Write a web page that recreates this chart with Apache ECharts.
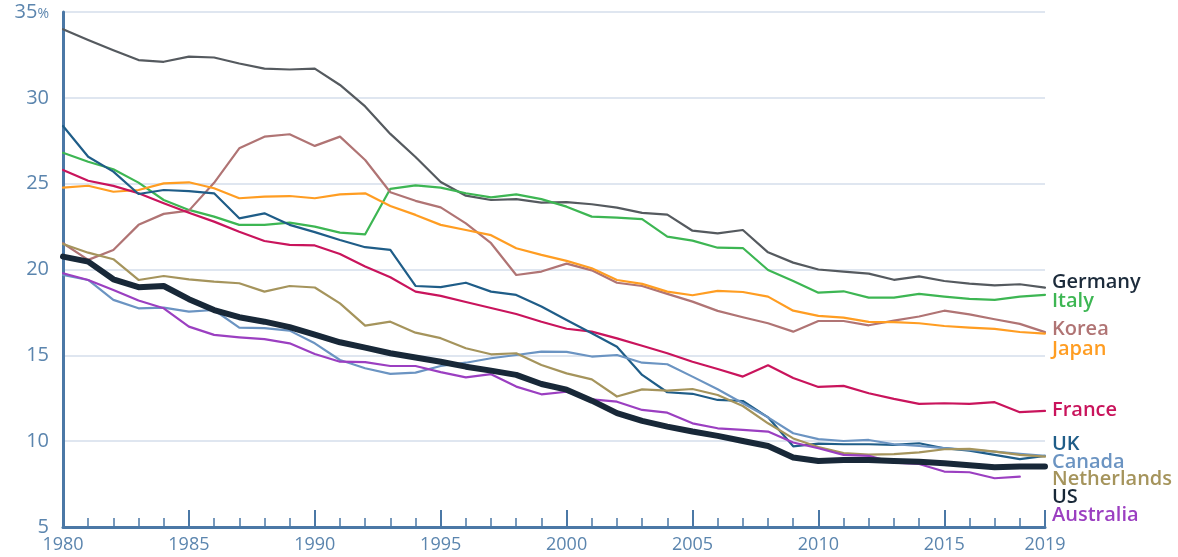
<!DOCTYPE html>
<html>
<head>
<meta charset="utf-8">
<script src="https://cdn.jsdelivr.net/npm/echarts@6/dist/echarts.min.js"></script>
<style>
  html, body { margin: 0; padding: 0; background: #fff; }
  #chart { width: 1178px; height: 557px; }
</style>
</head>
<body>
<div id="chart"></div>
<script>
// 年份 1980-2019
const years = Array.from({ length: 40 }, (_, i) => 1980 + i);

const germany = [34.0, 33.37, 32.77, 32.2, 32.1, 32.4, 32.35, 32.0, 31.7, 31.65, 31.7, 30.75, 29.5, 27.9, 26.55, 25.1, 24.3, 24.05, 24.1, 23.9, 23.93, 23.8, 23.6, 23.3, 23.2, 22.26, 22.1, 22.3, 21.0, 20.4, 20.0, 19.88, 19.76, 19.4, 19.6, 19.33, 19.18, 19.08, 19.14, 18.94];
const italy = [26.8, 26.28, 25.84, 25.06, 24.05, 23.47, 23.08, 22.6, 22.6, 22.73, 22.5, 22.15, 22.05, 24.7, 24.9, 24.77, 24.44, 24.2, 24.38, 24.1, 23.66, 23.08, 23.02, 22.93, 21.92, 21.68, 21.27, 21.25, 19.97, 19.33, 18.65, 18.73, 18.36, 18.36, 18.58, 18.42, 18.29, 18.23, 18.42, 18.52];
const korea = [21.53, 20.56, 21.14, 22.6, 23.24, 23.43, 25.05, 27.06, 27.74, 27.88, 27.2, 27.74, 26.38, 24.5, 24.0, 23.62, 22.69, 21.53, 19.68, 19.88, 20.34, 19.95, 19.23, 19.04, 18.58, 18.13, 17.59, 17.22, 16.87, 16.38, 17.0, 17.0, 16.75, 17.02, 17.26, 17.6, 17.39, 17.1, 16.83, 16.35];
const japan = [24.77, 24.88, 24.53, 24.63, 25.02, 25.08, 24.73, 24.15, 24.24, 24.28, 24.15, 24.38, 24.44, 23.7, 23.18, 22.6, 22.3, 22.0, 21.24, 20.85, 20.5, 20.07, 19.39, 19.16, 18.71, 18.5, 18.75, 18.69, 18.42, 17.6, 17.3, 17.2, 16.95, 16.94, 16.87, 16.71, 16.61, 16.54, 16.36, 16.27];
const france = [25.8, 25.17, 24.87, 24.44, 23.86, 23.31, 22.79, 22.2, 21.66, 21.43, 21.4, 20.9, 20.17, 19.55, 18.71, 18.46, 18.11, 17.76, 17.41, 16.96, 16.55, 16.38, 15.99, 15.56, 15.12, 14.63, 14.2, 13.76, 14.42, 13.68, 13.16, 13.22, 12.79, 12.46, 12.17, 12.21, 12.17, 12.27, 11.69, 11.76];
const uk = [28.36, 26.57, 25.7, 24.4, 24.63, 24.57, 24.44, 22.98, 23.27, 22.6, 22.18, 21.72, 21.3, 21.14, 19.04, 18.97, 19.23, 18.71, 18.52, 17.84, 17.06, 16.29, 15.5, 13.86, 12.85, 12.76, 12.4, 12.34, 11.39, 9.7, 9.86, 9.82, 9.82, 9.78, 9.88, 9.59, 9.45, 9.2, 8.95, 9.14];
const canada = [19.68, 19.39, 18.23, 17.74, 17.78, 17.55, 17.64, 16.61, 16.58, 16.44, 15.7, 14.73, 14.25, 13.92, 13.99, 14.38, 14.57, 14.83, 15.02, 15.22, 15.2, 14.93, 15.02, 14.57, 14.48, 13.76, 13.02, 12.21, 11.39, 10.46, 10.12, 10.01, 10.07, 9.82, 9.72, 9.59, 9.49, 9.39, 9.26, 9.14];
const netherlands = [21.49, 20.98, 20.6, 19.39, 19.62, 19.43, 19.29, 19.2, 18.71, 19.04, 18.95, 18.03, 16.73, 16.96, 16.32, 16.0, 15.41, 15.06, 15.12, 14.44, 13.95, 13.6, 12.6, 13.02, 12.94, 13.04, 12.69, 12.05, 11.04, 10.16, 9.66, 9.3, 9.22, 9.24, 9.35, 9.53, 9.55, 9.39, 9.2, 9.1];
const us = [20.75, 20.46, 19.43, 18.97, 19.04, 18.27, 17.64, 17.22, 16.96, 16.64, 16.2, 15.76, 15.45, 15.12, 14.87, 14.63, 14.34, 14.11, 13.86, 13.33, 13.0, 12.36, 11.63, 11.18, 10.85, 10.56, 10.31, 10.01, 9.72, 9.05, 8.85, 8.91, 8.91, 8.85, 8.8, 8.72, 8.6, 8.48, 8.52, 8.52];
const australia = [19.78, 19.39, 18.81, 18.19, 17.74, 16.67, 16.19, 16.05, 15.94, 15.7, 15.08, 14.63, 14.6, 14.38, 14.38, 14.02, 13.72, 13.9, 13.18, 12.73, 12.88, 12.44, 12.3, 11.82, 11.66, 11.04, 10.75, 10.66, 10.56, 9.92, 9.59, 9.2, 9.14, 8.75, 8.67, 8.23, 8.19, 7.84, 7.93, null];

const xLabelYears = [1980, 1985, 1990, 1995, 2000, 2005, 2010, 2015, 2019];

// 系列：名称、数据、线色、标签色、线宽
const countries = [
    { name: 'Germany', data: germany, color: '#555a5f', label: '#1c2b3b', labelTop: 272 },
    { name: 'Italy', data: italy, color: '#3db653', label: '#3db653', labelTop: 291 },
    { name: 'Korea', data: korea, color: '#b07474', label: '#b07474', labelTop: 319 },
    { name: 'Japan', data: japan, color: '#ff9d22', label: '#ff9d22', labelTop: 339 },
    { name: 'France', data: france, color: '#c9145c', label: '#c9145c', labelTop: 400 },
    { name: 'UK', data: uk, color: '#1f5d88', label: '#1f5d88', labelTop: 434 },
    { name: 'Canada', data: canada, color: '#6b94c2', label: '#6b94c2', labelTop: 452 },
    { name: 'Netherlands', data: netherlands, color: '#a5945c', label: '#a5945c', labelTop: 469 },
    { name: 'Australia', data: australia, color: '#9b3fc1', label: '#9b3fc1', labelTop: 505 },
    { name: 'US', data: us, color: '#182838', label: '#182838', labelTop: 487, width: 6 }
];

const axisColor = '#4b78a6';
const tickTextColor = '#5b85ae';
const fontFamily = '"Open Sans", "DejaVu Sans", sans-serif';

const chart = echarts.init(document.getElementById('chart'));

const option = {
    animation: false,
    grid: { left: 63, right: 133, top: 12, bottom: 30 },
    xAxis: [
        {
            type: 'value',
            min: 1980,
            max: 2019,
            interval: 1,
            axisLine: { show: true, lineStyle: { color: axisColor, width: 3 } },
            axisTick: { show: true, inside: true, length: 9, lineStyle: { color: axisColor, width: 1.5 } },
            axisLabel: { show: false },
            splitLine: { show: false }
        },
        {
            type: 'value',
            min: 1980,
            max: 2019,
            interval: 5,
            position: 'bottom',
            axisLine: { show: false },
            axisTick: { show: true, inside: true, length: 17, lineStyle: { color: axisColor, width: 2 } },
            axisLabel: {
                show: true,
                margin: 9,
                color: tickTextColor,
                fontSize: 18,
                fontFamily: fontFamily,
                formatter: (v) => xLabelYears.includes(v) ? String(v) : ''
            },
            splitLine: { show: false }
        }
    ],
    yAxis: {
        type: 'value',
        min: 5,
        max: 35,
        interval: 5,
        axisLine: { show: true, lineStyle: { color: axisColor, width: 3 } },
        axisTick: { show: false },
        axisLabel: {
            margin: 14,
            color: tickTextColor,
            fontSize: 20,
            fontFamily: fontFamily,
            formatter: (v) => v === 35 ? '35{p|%}' : String(v),
            rich: {
                p: { fontSize: 14, color: tickTextColor, fontFamily: fontFamily, padding: [4, 0, 0, 0] }
            }
        },
        splitLine: { show: true, lineStyle: { color: '#dfe6f0', width: 2 } }
    },
    series: countries.map(c => ({
        name: c.name,
        type: 'line',
        xAxisIndex: 0,
        symbol: 'none',
        connectNulls: false,
        data: years.map((y, i) => [y, c.data[i]]),
        lineStyle: { color: c.color, width: c.width || 2.2, cap: 'round', join: 'round' },
        z: c.width ? 5 : 2
    })),
    graphic: countries.map(c => ({
        type: 'text',
        left: 1052,
        top: c.labelTop,
        style: {
            text: c.name,
            fill: c.label,
            font: '600 20px ' + fontFamily
        }
    }))
};

chart.setOption(option);
</script>
</body>
</html>
